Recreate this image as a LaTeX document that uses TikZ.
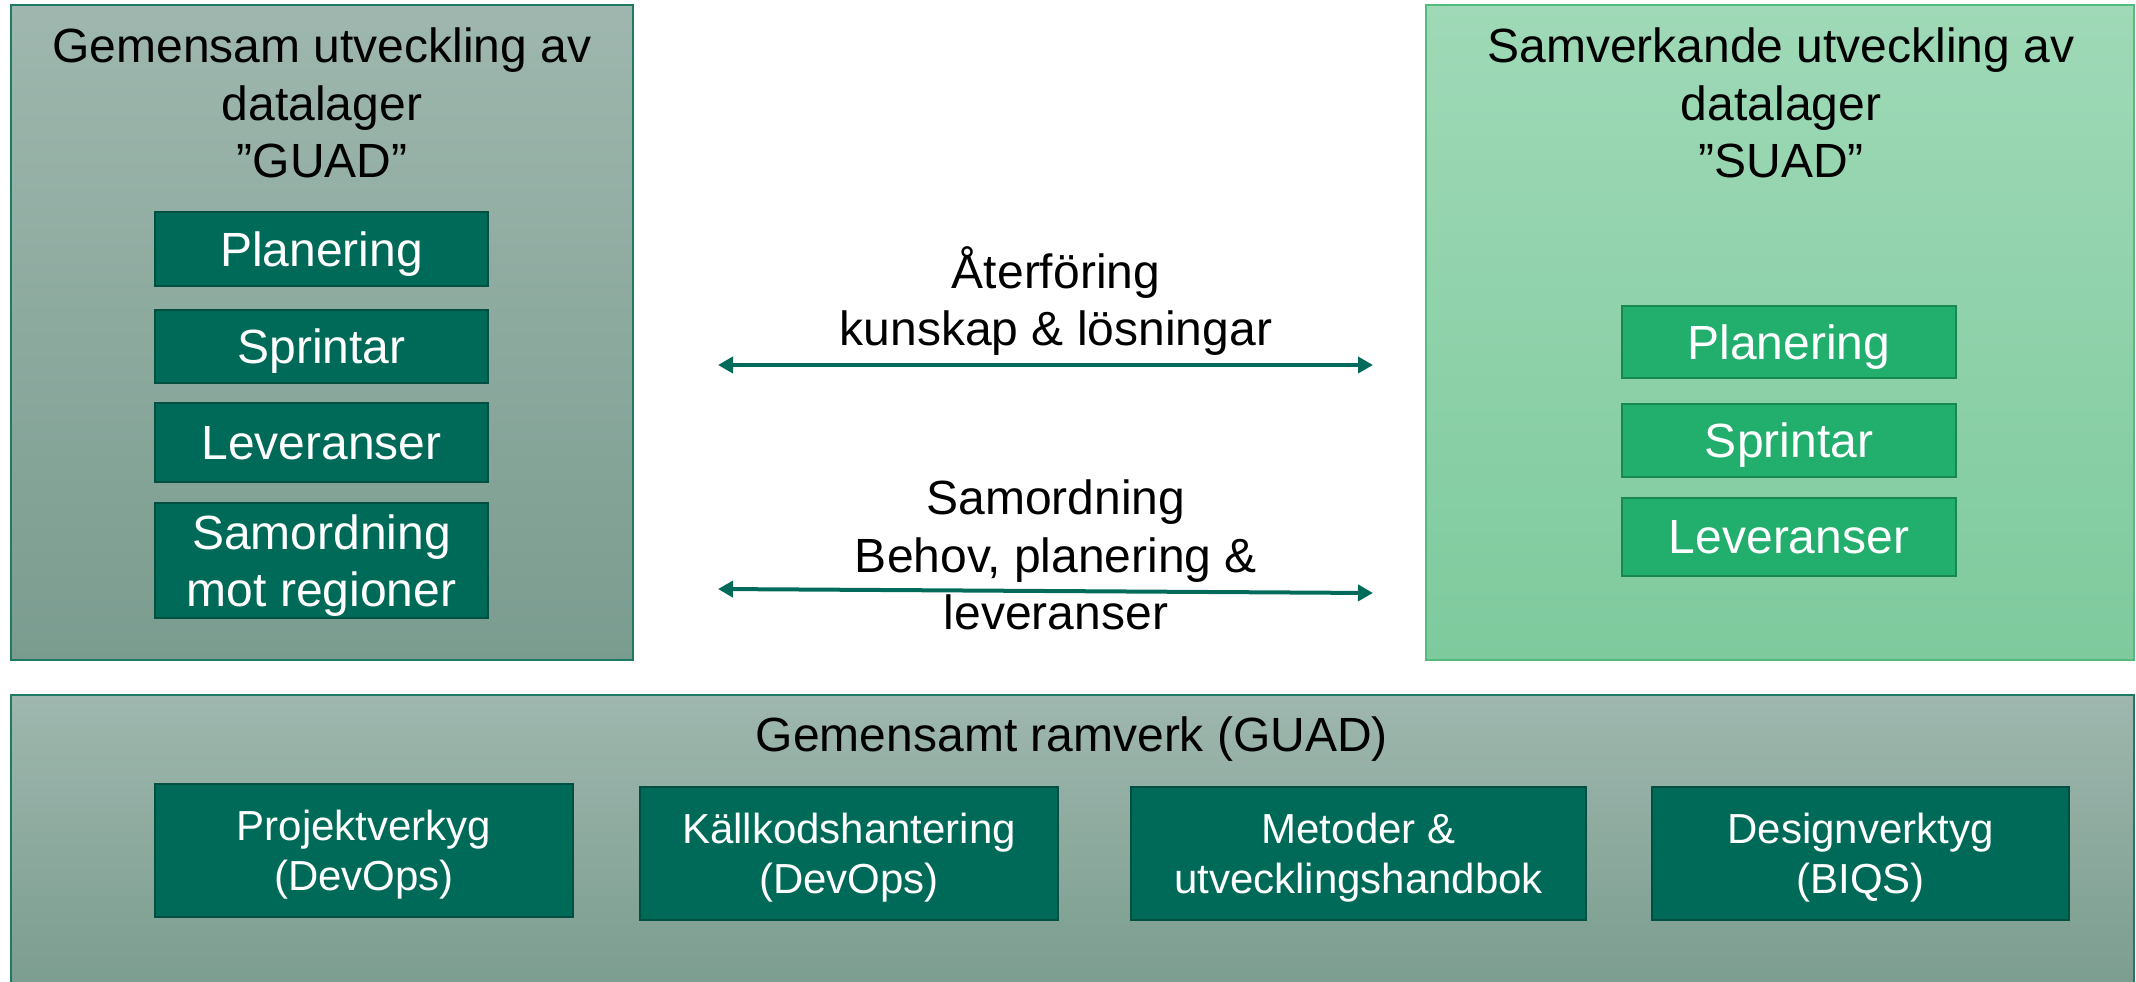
\documentclass[tikz,border=0pt]{standalone}
\usepackage{fontspec}
\setmainfont{Liberation Sans}
\usetikzlibrary{arrows.meta}

\definecolor{guadtop}{HTML}{9FB7AE}
\definecolor{guadbot}{HTML}{7A9C8F}
\definecolor{guadedge}{HTML}{1E7A63}
\definecolor{suadtop}{HTML}{9FD9B7}
\definecolor{suadbot}{HTML}{7ECA9D}
\definecolor{suadedge}{HTML}{52BB7E}
\definecolor{darkbox}{HTML}{006A59}
\definecolor{darkedge}{HTML}{004F40}
\definecolor{greenbox}{HTML}{22AE6D}
\definecolor{greenedge}{HTML}{17884F}
\definecolor{pilcol}{HTML}{006B5A}

\begin{document}
\begin{tikzpicture}[x=1pt,y=-1pt,
    bigfont/.style={font=\fontsize{48}{57.5}\selectfont},
    smallfont/.style={font=\fontsize{42}{50}\selectfont},
    guadpanel/.style={draw=guadedge,line width=1.5pt,top color=guadtop,bottom color=guadbot,inner sep=0pt},
    suadpanel/.style={draw=suadedge,line width=1.5pt,top color=suadtop,bottom color=suadbot,inner sep=0pt},
    darkstep/.style={draw=darkedge,line width=2pt,fill=darkbox,text=white,align=center,inner sep=0pt,text depth=0pt,minimum width=333pt},
    greenstep/.style={draw=greenedge,line width=2pt,fill=greenbox,text=white,align=center,inner sep=0pt,text depth=0pt,minimum width=334pt},
    toolbox/.style={draw=darkedge,line width=2pt,fill=darkbox,text=white,align=center,inner sep=0pt,text depth=0pt,minimum height=133pt,smallfont},
    rubrik/.style={align=center,inner sep=0pt,bigfont},
    pil/.style={draw=pilcol,line width=4pt,{Triangle[length=15pt,width=16pt]}-{Triangle[length=15pt,width=16pt]}}]
    \useasboundingbox (0,0) rectangle (2136,982);
    \clip (0,0) rectangle (2136,982);

    % paneler
    \node[guadpanel,minimum width=622pt,minimum height=655pt] (guad) at (322,332.5) {};
    \node[suadpanel,minimum width=708pt,minimum height=655pt] (suad) at (1780,332.5) {};
    \node[guadpanel,minimum width=2123pt,minimum height=300pt] (ramverk) at (1072.5,845) {};

    \node[rubrik,anchor=north] (guadtitel) at (322,28) {Gemensam utveckling av\\datalager\\”GUAD”};
    \node[rubrik,anchor=north] (suadtitel) at (1781,28) {Samverkande utveckling av\\datalager\\”SUAD”};
    \node[rubrik,anchor=base] (ramtitel) at (1072,751) {Gemensamt ramverk (GUAD)};

    % GUAD
    \node[darkstep,bigfont,minimum height=74pt] (gplan) at (321.5,249) {Planering};
    \node[darkstep,bigfont,minimum height=73pt] (gsprint) at (321.5,346.5) {Sprintar};
    \node[darkstep,bigfont,minimum height=79pt] (glev) at (321.5,442.5) {Leveranser};
    \node[darkstep,bigfont,minimum height=115pt] (gsam) at (321.5,560.5) {Samordning\\mot regioner};

    % SUAD
    \node[greenstep,bigfont,minimum height=72pt] (splan) at (1789,342) {Planering};
    \node[greenstep,bigfont,minimum height=73pt] (ssprint) at (1789,440.5) {Sprintar};
    \node[greenstep,bigfont,minimum height=78pt] (slev) at (1789,537) {Leveranser};

    % pilar
    \coordinate (p1v) at (718,365);
    \coordinate (p1h) at (1373,365);
    \coordinate (p2v) at (718,589);
    \coordinate (p2h) at (1373,593);
    \draw[pil] (p1v) -- (p1h);
    \draw[pil] (p2v) -- (p2h);
    \node[rubrik,anchor=north] (aterforing) at (1056,246) {Återföring\\kunskap \& lösningar};
    \node[rubrik,anchor=north] (samordning) at (1056,480) {Samordning\\Behov, planering \&\\leveranser};

    % ramverk
    \node[toolbox,minimum width=418pt] (projekt) at (364,850.5) {Projektverkyg\\(DevOps)};
    \node[toolbox,minimum width=418pt] (kallkod) at (849,853.5) {Källkodshantering\\(DevOps)};
    \node[toolbox,minimum width=455pt] (metoder) at (1358.5,853.5) {Metoder \&\\utvecklingshandbok};
    \node[toolbox,minimum width=417pt] (design) at (1860.5,853.5) {Designverktyg\\(BIQS)};
\end{tikzpicture}
\end{document}
